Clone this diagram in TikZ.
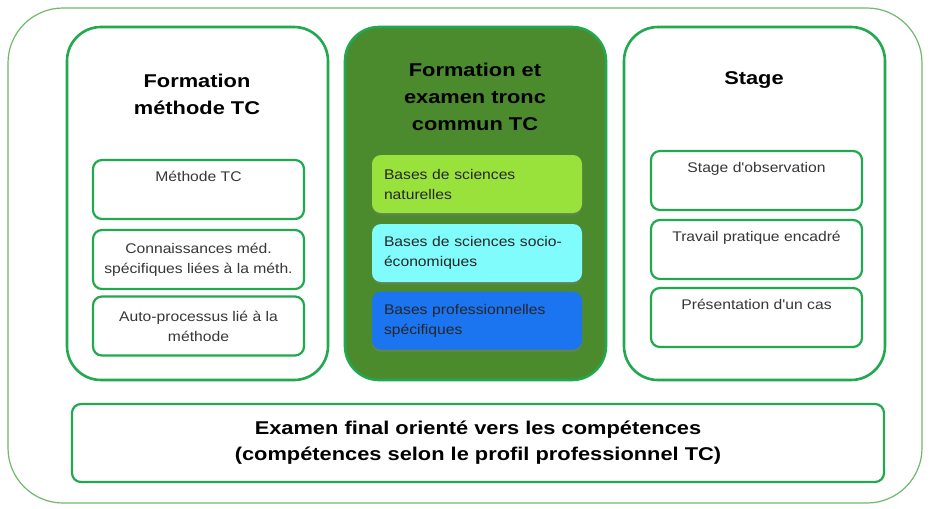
\documentclass[tikz,border=0pt]{standalone}
\usepackage{fontspec}
\setmainfont{Liberation Sans}
\newfontfamily\boxfont[FakeStretch=1.12]{Liberation Sans}
\newfontfamily\titlefont[FakeStretch=1.18]{Liberation Sans}
\usetikzlibrary{positioning,shadows}

\definecolor{tcgreen}{RGB}{34,168,78}
\definecolor{tcframe}{RGB}{110,185,110}
\definecolor{tcdark}{RGB}{76,138,46}
\definecolor{tclime}{RGB}{153,226,60}
\definecolor{tccyan}{RGB}{128,252,252}
\definecolor{tcblue}{RGB}{27,116,240}
\definecolor{tctext}{RGB}{55,55,55}

\begin{document}
\begin{tikzpicture}[
    x=1pt, y=-1pt,
    frame/.style={draw=tcframe, line width=1.2pt, rounded corners=55pt},
    panel/.style={draw=tcgreen, line width=2.6pt, rounded corners=34pt,
        minimum width=261pt, minimum height=353pt, fill=white},
    title/.style={font=\titlefont\bfseries\fontsize{18.5}{27}\selectfont, align=center, text=black},
    subbox/.style={draw=tcgreen, line width=2.2pt, rounded corners=9pt,
        minimum width=211pt, minimum height=59pt, align=center, text=tctext,
        font=\boxfont\fontsize{14}{20}\selectfont, inner sep=0pt},
    basebox/.style={draw=none, rounded corners=9pt,
        minimum width=210pt, minimum height=58pt, text width=186pt, align=left,
        text=black!85, font=\boxfont\fontsize{14}{20}\selectfont, inner sep=0pt,
        drop shadow={opacity=0.35, shadow xshift=0pt, shadow yshift=-2.5pt}}
]
    \useasboundingbox (0,0) rectangle (930,509);

    % Outer frame
    \draw[frame] (8,8) rectangle (922,503);

    % Left panel: method training
    \node[panel] (methode) at (197.5,203.5) {};
    \node[title] (methodetitle) at (197,94) {Formation\\méthode TC};
    \node[subbox] (methtc) at (198.5,189.5) {Méthode TC\\\strut};
    \node[subbox] (connmed) at (198.5,259.5) {Connaissances méd.\\spécifiques liées à la méth.};
    \node[subbox] (autoproc) at (198.5,326) {Auto-processus lié à la\\méthode};

    % Center panel: common trunk
    \node[panel, fill=tcdark] (tronc) at (475.5,203.5) {};
    \node[title] (tronctitle) at (475,97) {Formation et\\examen tronc\\commun TC};
    \node[basebox, fill=tclime] (natur) at (477,184) {Bases de sciences\\naturelles};
    \node[basebox, fill=tccyan] (socio) at (477,253) {Bases de sciences socio-\\économiques};
    \node[basebox, fill=tcblue] (prof) at (477,320.5) {Bases professionnelles\\spécifiques};

    % Right panel: internship
    \node[panel] (stage) at (754.5,203.5) {};
    \node[title] (stagetitle) at (754,80) {Stage};
    \node[subbox] (observ) at (756.5,180.5) {Stage d'observation\\\strut};
    \node[subbox] (travail) at (756.5,249.5) {Travail pratique encadré\\\strut};
    \node[subbox] (cas) at (756.5,317.5) {Présentation d'un cas\\\strut};

    % Bottom: final exam
    \node[subbox, minimum width=812pt, minimum height=78pt, text=black,
        font=\titlefont\bfseries\fontsize{18.5}{26}\selectfont] (examen) at (478,443)
        {Examen final orienté vers les compétences\\(compétences selon le profil professionnel TC)};
\end{tikzpicture}
\end{document}
